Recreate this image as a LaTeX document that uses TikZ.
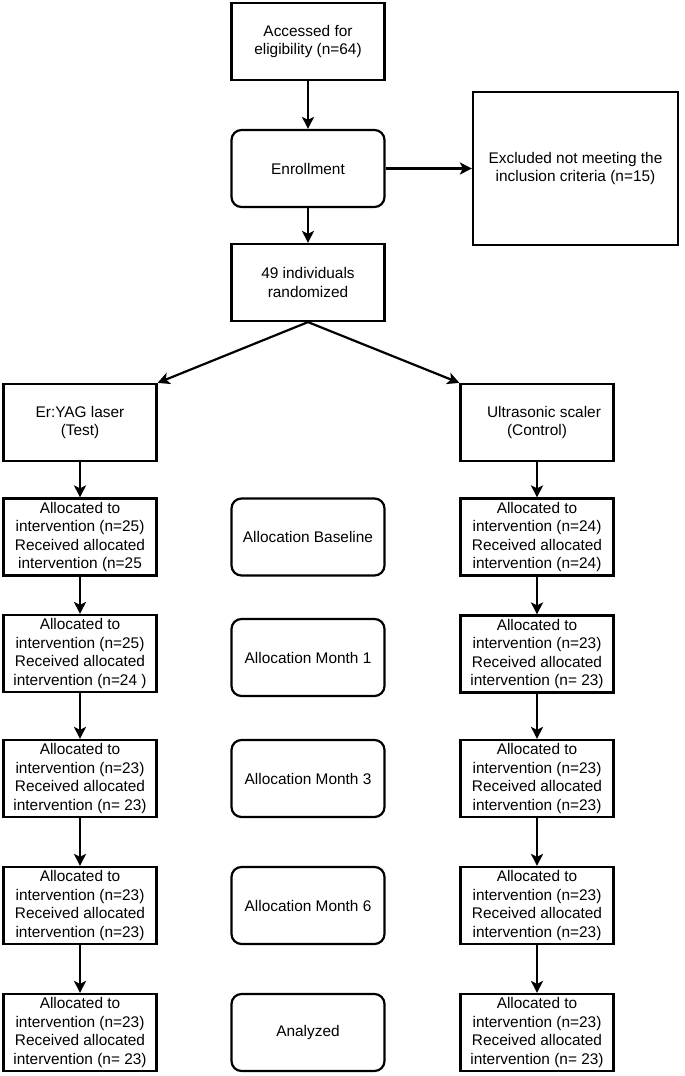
\documentclass[tikz,border=0pt]{standalone}
\usepackage{fontspec}
\setmainfont{Liberation Sans}
\usetikzlibrary{arrows.meta}
\begin{document}
\begin{tikzpicture}[x=1pt,y=-1pt,
  every node/.style={font=\fontsize{15.4}{18.5}\selectfont, align=center, inner sep=0pt},
  box/.style={draw, line width=2.2pt, minimum width=153pt, minimum height=77pt},
  rbox/.style={box, rounded corners=10pt},
  arr/.style={line width=2.2pt, -{Stealth[length=12pt,width=12pt,inset=3pt]}}]
\useasboundingbox (0,0) rectangle (685,1076);
\node[box] (top) at (308,41.5) {Accessed for\\eligibility (n=64)};
\node[rbox] (enr) at (308,168.5) {Enrollment};
\node[box, minimum width=205pt, minimum height=153pt] (exc) at (575.5,168.5) {Excluded not meeting the\\inclusion criteria (n=15)};
\node[box] (rand) at (308,282.5) {49 individuals\\randomized};
\node[box] (test) at (80,422.5) {Er:YAG laser\\(Test)};
\node[box] (ctrl) at (537,422.5) {\hspace*{14pt}Ultrasonic scaler\\(Control)};
% row 1
\node[box] (l1) at (80,537) {Allocated to\\intervention (n=25)\\Received allocated\\intervention (n=25};
\node[rbox] (m1) at (308,537) {Allocation Baseline};
\node[box] (r1) at (537,537) {Allocated to\\intervention (n=24)\\Received allocated\\intervention (n=24)};
% row 2
\node[box] (l2) at (80,653.5) {Allocated to\\intervention (n=25)\\Received allocated\\intervention (n=24 )};
\node[rbox] (m2) at (308,657.5) {Allocation Month 1};
\node[box] (r2) at (537,654) {Allocated to\\intervention (n=23)\\Received allocated\\intervention (n= 23)};
% row 3
\node[box] (l3) at (80,778.5) {Allocated to\\intervention (n=23)\\Received allocated\\intervention (n= 23)};
\node[rbox] (m3) at (308,778.5) {Allocation Month 3};
\node[box] (r3) at (537,778.5) {Allocated to\\intervention (n=23)\\Received allocated\\intervention (n=23)};
% row 4
\node[box] (l4) at (80,905.5) {Allocated to\\intervention (n=23)\\Received allocated\\intervention (n=23)};
\node[rbox] (m4) at (308,905.5) {Allocation Month 6};
\node[box] (r4) at (537,905.5) {Allocated to\\intervention (n=23)\\Received allocated\\intervention (n=23)};
% row 5
\node[box] (l5) at (80,1032.5) {Allocated to\\intervention (n=23)\\Received allocated\\intervention (n= 23)};
\node[rbox] (m5) at (308,1032.5) {Analyzed};
\node[box] (r5) at (537,1032.5) {Allocated to\\intervention (n=23)\\Received allocated\\intervention (n= 23)};
% arrows
\draw[arr] (top) -- (enr);
\draw[arr] (enr.east) -- (exc.west |- enr.east);
\draw[arr] (enr) -- (rand);
\draw[arr] (rand.south) -- (test.north east);
\draw[arr] (rand.south) -- (ctrl.north west);
\draw[arr] (test) -- (l1);
\draw[arr] (l1) -- (l2);
\draw[arr] (l2) -- (l3);
\draw[arr] (l3) -- (l4);
\draw[arr] (l4) -- (l5);
\draw[arr] (ctrl) -- (r1);
\draw[arr] (r1) -- (r2);
\draw[arr] (r2) -- (r3);
\draw[arr] (r3) -- (r4);
\draw[arr] (r4) -- (r5);
\end{tikzpicture}
\end{document}
